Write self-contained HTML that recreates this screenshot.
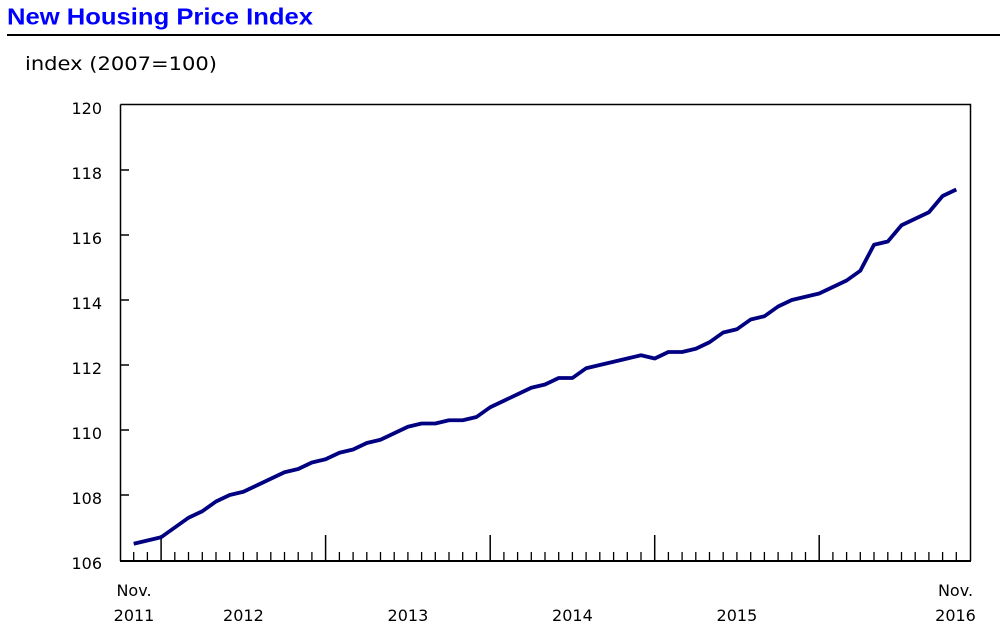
<!DOCTYPE html>
<html>
<head>
<meta charset="utf-8">
<style>
  html, body { margin: 0; padding: 0; background: #ffffff; }
  body { width: 1000px; height: 638px; overflow: hidden; }
  svg { display: block; }
</style>
</head>
<body>
<svg width="1000" height="638" viewBox="0 0 1000 638" xmlns="http://www.w3.org/2000/svg">
  <rect x="0" y="0" width="1000" height="638" fill="#ffffff"/>

  <!-- Title -->
  <text x="7" y="24.5" font-family="Liberation Sans, Arial, sans-serif" font-weight="bold" font-size="23" fill="#0000ff" textLength="306" lengthAdjust="spacingAndGlyphs">New Housing Price Index</text>
  <rect x="7" y="34" width="993" height="2" fill="#000000"/>

  <!-- Units -->
  <text x="25" y="70" font-family="DejaVu Sans, Verdana, sans-serif" font-size="19" fill="#000000" textLength="192" lengthAdjust="spacingAndGlyphs">index (2007=100)</text>

  <!-- Y axis labels -->
  <g font-family="DejaVu Sans, Verdana, sans-serif" font-size="16" fill="#000000" text-anchor="end">
    <text x="102" y="114">120</text>
    <text x="102" y="179">118</text>
    <text x="102" y="244">116</text>
    <text x="102" y="309">114</text>
    <text x="102" y="374">112</text>
    <text x="102" y="439">110</text>
    <text x="102" y="504">108</text>
    <text x="102" y="569">106</text>
  </g>

  <!-- Frame -->
  <path d="M120.5 104.5 H970.5 V561 M120.5 104.5 V561" fill="none" stroke="#000000" stroke-width="1.5"/>
  <path d="M120 561 H971" fill="none" stroke="#000000" stroke-width="2"/>

  <!-- Y ticks -->
  <path d="M120 170 H129 M120 235 H129 M120 300 H129 M120 365 H129 M120 430 H129 M120 495 H129" stroke="#000000" stroke-width="1.5" fill="none"/>

  <!-- X ticks minor -->
  <path fill="none" stroke="#000000" stroke-width="1.3" d="
    M133.7 552 V561 M147.4 552 V561
    M174.8 552 V561 M188.5 552 V561 M202.3 552 V561 M216.0 552 V561 M229.7 552 V561 M243.4 552 V561 M257.1 552 V561 M270.8 552 V561 M284.5 552 V561 M298.2 552 V561 M311.9 552 V561
    M339.4 552 V561 M353.1 552 V561 M366.8 552 V561 M380.5 552 V561 M394.2 552 V561 M407.9 552 V561 M421.6 552 V561 M435.3 552 V561 M449.0 552 V561 M462.7 552 V561 M476.5 552 V561
    M503.9 552 V561 M517.6 552 V561 M531.3 552 V561 M545.0 552 V561 M558.7 552 V561 M572.4 552 V561 M586.1 552 V561 M599.8 552 V561 M613.6 552 V561 M627.3 552 V561 M641.0 552 V561
    M668.4 552 V561 M682.1 552 V561 M695.8 552 V561 M709.5 552 V561 M723.2 552 V561 M736.9 552 V561 M750.7 552 V561 M764.4 552 V561 M778.1 552 V561 M791.8 552 V561 M805.5 552 V561
    M832.9 552 V561 M846.6 552 V561 M860.3 552 V561 M874.0 552 V561 M887.8 552 V561 M901.5 552 V561 M915.2 552 V561 M928.9 552 V561 M942.6 552 V561 M956.3 552 V561"/>
  <!-- X ticks major -->
  <path fill="none" stroke="#000000" stroke-width="1.5" d="M161.1 535 V561 M325.6 535 V561 M490.2 535 V561 M654.7 535 V561 M819.2 535 V561"/>

  <!-- X labels -->
  <g font-family="DejaVu Sans, Verdana, sans-serif" font-size="16" fill="#000000" text-anchor="middle">
    <text x="134" y="596">Nov.</text>
    <text x="134" y="621">2011</text>
    <text x="243.4" y="621">2012</text>
    <text x="407.9" y="621">2013</text>
    <text x="572.4" y="621">2014</text>
    <text x="736.9" y="621">2015</text>
    <text x="955.5" y="596">Nov.</text>
    <text x="955.5" y="621">2016</text>
  </g>

  <!-- Data line -->
  <polyline fill="none" stroke="#000080" stroke-width="3.8" stroke-linejoin="round" stroke-linecap="butt" points="
    133.7,543.75 147.4,540.5 161.1,537.25 174.8,527.5 188.5,517.75 202.3,511.25 216.0,501.5 229.7,495 243.4,491.75 257.1,485.25
    270.8,478.75 284.5,472.25 298.2,469 311.9,462.5 325.6,459.25 339.4,452.75 353.1,449.5 366.8,443 380.5,439.75 394.2,433.25
    407.9,426.75 421.6,423.5 435.3,423.5 449.0,420.25 462.7,420.25 476.5,417 490.2,407.25 503.9,400.75 517.6,394.25 531.3,387.75
    545.0,384.5 558.7,378 572.4,378 586.1,368.25 599.8,365 613.6,361.75 627.3,358.5 641.0,355.25 654.7,358.5 668.4,352
    682.1,352 695.8,348.75 709.5,342.25 723.2,332.5 736.9,329.25 750.7,319.5 764.4,316.25 778.1,306.5 791.8,300 805.5,296.75
    819.2,293.5 832.9,287 846.6,280.5 860.3,270.75 874.0,244.75 887.8,241.5 901.5,225.25 915.2,218.75 928.9,212.25 942.6,196
    956.3,189.5"/>
</svg>
</body>
</html>
